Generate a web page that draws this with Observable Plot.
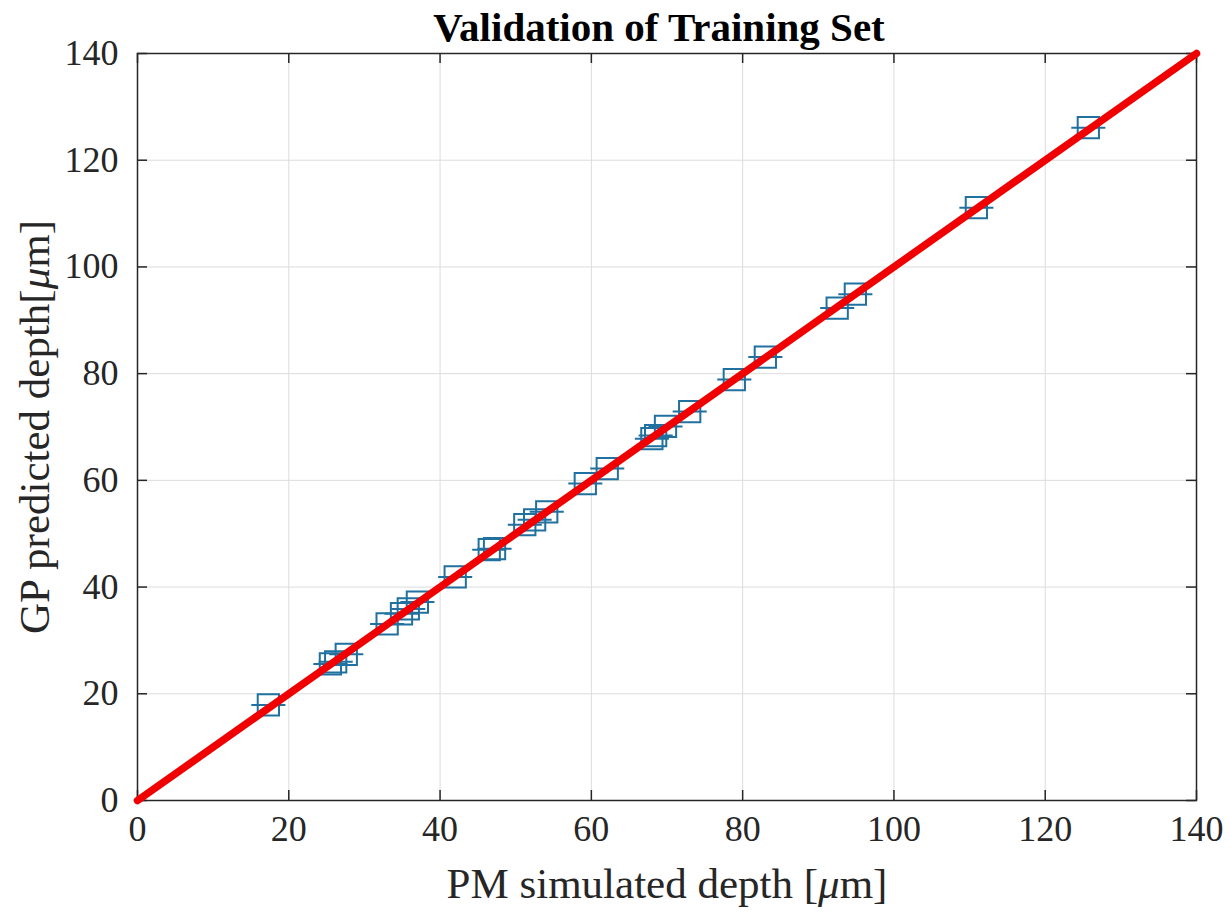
<!DOCTYPE html>
<html>
<head>
<meta charset="utf-8">
<script src="https://cdn.jsdelivr.net/npm/d3@7"></script>
<script src="https://cdn.jsdelivr.net/npm/@observablehq/plot@0.6"></script>
<style>
  html, body { margin: 0; padding: 0; background: #fff; }
</style>
</head>
<body>
<div id="chart"></div>
<script>
// Data
const titleText = "Validation of Training Set";
const xLabel = "PM simulated depth [μm]";
const yLabel = "GP predicted depth[μm]";
const tickValues = [0, 20, 40, 60, 80, 100, 120, 140];
const simDepth  = [17.3, 25.5, 26.2, 27.6, 33.0, 34.9, 35.8, 37.0, 42.0, 46.5, 47.2, 51.2, 52.5, 54.1, 59.2, 62.1, 68.0, 68.5, 69.8, 73.0, 78.9, 83.0, 92.5, 94.9, 110.9, 125.7];
const predDepth = [17.9, 25.6, 26.0, 27.4, 33.1, 35.0, 35.9, 37.2, 41.9, 47.0, 47.2, 51.7, 52.6, 54.1, 59.4, 62.2, 67.8, 68.4, 70.1, 72.9, 78.9, 83.1, 92.3, 94.9, 111.1, 126.1];
const idealX = [0, 140];
const idealY = [0, 140];

const points = simDepth.map((x, i) => ({x, y: predDepth[i]}));
const ideal = idealX.map((x, i) => ({x, y: idealY[i]}));

const W = 1231, H = 915;
const mL = 137, mR = 35, mT = 53, mB = 115;
const plotW = W - mL - mR, plotH = H - mT - mB;
const tickLen = 10;

const hbar = {
  draw(context, size) {
    const r = Math.sqrt(size / Math.PI);
    context.moveTo(-1.42 * r, 0);
    context.lineTo(1.42 * r, 0);
  }
};

const markerColor = "#2070a0";
const ink = "#262626";

const chart = Plot.plot({
  width: W,
  height: H,
  marginLeft: mL,
  marginRight: mR,
  marginTop: mT,
  marginBottom: mB,
  style: {fontFamily: "'Liberation Serif', 'Times New Roman', serif", color: ink, background: "#fff"},
  x: {domain: [0, 140]},
  y: {domain: [0, 140]},
  marks: [
    Plot.gridX(tickValues, {stroke: "#dcdcdc", strokeOpacity: 1, strokeWidth: 1}),
    Plot.gridY(tickValues, {stroke: "#dcdcdc", strokeOpacity: 1, strokeWidth: 1}),
    Plot.axisX(tickValues, {anchor: "bottom", tickSize: 0, tickPadding: 15, fontSize: 36, label: null, tickFormat: d => String(d)}),
    Plot.axisY(tickValues, {anchor: "left", tickSize: 0, tickPadding: 19, fontSize: 36, label: null, tickFormat: d => String(d)}),
    // inward ticks (bottom, top, left, right)
    Plot.tickX(tickValues, {x: d => d, insetTop: plotH - tickLen, stroke: ink, strokeWidth: 1.5}),
    Plot.tickX(tickValues, {x: d => d, insetBottom: plotH - tickLen, stroke: ink, strokeWidth: 1.5}),
    Plot.tickY(tickValues, {y: d => d, insetRight: plotW - tickLen, stroke: ink, strokeWidth: 1.5}),
    Plot.tickY(tickValues, {y: d => d, insetLeft: plotW - tickLen, stroke: ink, strokeWidth: 1.5}),
    Plot.dot(points, {x: "x", y: "y", symbol: "square", r: 12, stroke: markerColor, strokeWidth: 2, fill: "none"}),
    Plot.dot(points, {x: "x", y: "y", symbol: hbar, r: 12, stroke: markerColor, strokeWidth: 2, fill: "none"}),
    Plot.frame({stroke: ink, strokeWidth: 1.5}),
    Plot.line(ideal, {x: "x", y: "y", stroke: "#f00000", strokeWidth: 7.5, strokeLinecap: "round"}),
    Plot.text([titleText], {frameAnchor: "top", lineAnchor: "middle", textAnchor: "middle", dy: -26, dx: -8, fontSize: 41, fontWeight: "bold", fill: "#000"}),
    Plot.text([xLabel], {frameAnchor: "bottom", lineAnchor: "middle", textAnchor: "middle", dy: 84, fontSize: 43, fill: ink}),
    Plot.text([yLabel], {frameAnchor: "left", lineAnchor: "middle", textAnchor: "middle", dx: -102, rotate: -90, fontSize: 43, fill: ink})
  ]
});

// italicize the Greek mu in the axis labels
chart.querySelectorAll("text").forEach(t => {
  const s = t.textContent;
  if (s.includes("μ") && t.children.length === 0) {
    const [a, b] = s.split("μ");
    t.textContent = "";
    t.appendChild(document.createTextNode(a));
    const ts = document.createElementNS("http://www.w3.org/2000/svg", "tspan");
    ts.setAttribute("font-style", "italic");
    ts.textContent = "μ";
    t.appendChild(ts);
    t.appendChild(document.createTextNode(b));
  }
});

document.getElementById("chart").appendChild(chart);
</script>
</body>
</html>
